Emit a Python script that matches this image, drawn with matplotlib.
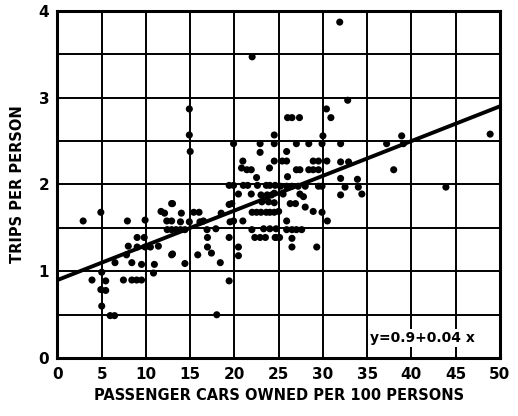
import numpy as np
import matplotlib.pyplot as plt

# cars owned per 100 persons vs. trips per person
cars = [
    2.9, 4.9, 7.9, 9.9, 11.7, 12.1, 12.9, 12.35, 12.9,
    12.4, 12.9, 13.4, 13.9, 14.4,
    9.0, 9.8, 8.0, 9.0, 9.9, 10.5, 11.4,
    12.9, 7.8, 6.5, 8.4, 9.5, 10.95, 10.85,
    5.0, 3.9, 5.45, 7.45, 8.4, 8.95, 9.5,
    4.9, 5.45, 5.0, 5.95, 6.45,
    13.0, 14.0, 15.4, 16.0, 18.5, 19.4, 19.4,
    13.9, 14.9, 16.1, 16.5, 19.5,
    16.9, 17.9, 16.95, 19.4, 16.95, 13.0, 15.85, 17.4,
    14.4, 18.4, 19.4, 18.0,
    14.9, 14.9, 15.0,
    22.0, 19.9, 22.9, 22.9, 24.5, 24.5, 20.95,
    20.8, 21.4, 21.9, 23.96, 22.5,
    19.9, 21.0, 21.5, 22.6, 23.6, 24.0, 24.6,
    20.45, 21.9, 23.0, 23.7, 24.2,
    19.7, 23.1, 23.85,
    22.0, 22.5, 23.0, 23.6, 24.0, 24.5,
    19.9, 20.95,
    21.97, 23.3, 24.0, 24.7,
    22.3, 22.9, 23.5, 24.7,
    20.45, 20.45,
    26.0, 26.5, 27.35, 30.4, 30.9, 32.8, 31.9,
    30.0, 24.5, 27.0, 28.4, 29.9, 32.0, 37.2,
    25.9, 25.4, 25.9, 28.9, 29.5, 30.45, 32.0, 32.9,
    27.0, 27.4, 28.4, 28.9, 29.5,
    26.0, 32.0, 33.9,
    25.2, 25.9, 26.5, 27.2, 28.0, 29.5, 29.9, 32.5, 34.0,
    24.5, 25.5, 27.4, 32.0, 34.4, 27.8,
    24.5, 26.3, 26.9, 28.0,
    28.9, 29.9, 25.0,
    25.9, 30.5,
    25.9, 26.5, 27.0, 27.6,
    24.6, 25.1, 26.5,
    26.5, 29.3,
    38.9, 39.1, 48.9, 38.0, 43.9,
]
trips = [
    1.58, 1.68, 1.58, 1.59, 1.69, 1.67, 1.78, 1.58, 1.58,
    1.48, 1.48, 1.48, 1.48, 1.48,
    1.39, 1.39, 1.29, 1.28, 1.28, 1.28, 1.29,
    1.19, 1.19, 1.10, 1.10, 1.08, 1.08, 0.98,
    0.99, 0.90, 0.89, 0.90, 0.90, 0.90, 0.90,
    0.79, 0.78, 0.60, 0.49, 0.49,
    1.78, 1.67, 1.68, 1.68, 1.67, 1.77, 1.99,
    1.57, 1.57, 1.57, 1.58, 1.57,
    1.48, 1.49, 1.39, 1.39, 1.28, 1.20, 1.19, 1.21,
    1.09, 1.10, 0.89, 0.50,
    2.87, 2.57, 2.38,
    3.47, 2.47, 2.47, 2.37, 2.57, 2.27, 2.27,
    2.19, 2.17, 2.17, 2.19, 2.08,
    1.99, 1.99, 1.99, 1.99, 1.99, 1.99, 1.99,
    1.89, 1.89, 1.88, 1.88, 1.88,
    1.78, 1.80, 1.80,
    1.68, 1.68, 1.68, 1.68, 1.68, 1.68,
    1.58, 1.58,
    1.48, 1.49, 1.49, 1.49,
    1.39, 1.39, 1.39, 1.39,
    1.28, 1.18,
    2.77, 2.77, 2.77, 2.87, 2.77, 2.97, 3.87,
    2.56, 2.47, 2.47, 2.47, 2.47, 2.47, 2.47,
    2.38, 2.27, 2.27, 2.27, 2.27, 2.27, 2.26, 2.26,
    2.17, 2.17, 2.17, 2.17, 2.17,
    2.09, 2.07, 2.06,
    1.98, 1.98, 1.98, 1.98, 1.98, 1.98, 1.98, 1.97, 1.97,
    1.90, 1.89, 1.89, 1.88, 1.89, 1.86,
    1.79, 1.78, 1.78, 1.74,
    1.69, 1.68, 1.69,
    1.58, 1.58,
    1.48, 1.48, 1.48, 1.48,
    1.39, 1.39, 1.38,
    1.28, 1.28,
    2.56, 2.47, 2.58, 2.17, 1.97,
]

# fitted line y = a + b x
a, b = 0.9, 0.04
x_ticks = [0, 5, 10, 15, 20, 25, 30, 35, 40, 45, 50]
y_ticks = [0, 1, 2, 3, 4]

fig = plt.figure(figsize=(5.18, 4.16), dpi=100)
ax = fig.add_axes([0.111, 0.139, 0.854, 0.835])

ax.set_xlim(0, 50)
ax.set_ylim(0, 4)

# grid every 5 cars and every half trip
for gx in np.arange(5, 50, 5):
    ax.axvline(gx, color="black", lw=1.4, zorder=1)
for gy in np.arange(0.5, 4, 0.5):
    ax.axhline(gy, color="black", lw=1.4, zorder=1)

ax.scatter(cars, trips, s=26, color="black", edgecolors="none", zorder=3)

xs = np.array([0, 50])
ax.plot(xs, a + b * xs, color="black", lw=2.8, zorder=4, solid_capstyle="butt")

ax.text(41.3, 0.23, "y=0.9+0.04 x", ha="center", va="center",
        fontsize=10, fontweight="bold", zorder=5,
        bbox=dict(facecolor="white", edgecolor="none", pad=1.5))

for s in ax.spines.values():
    s.set_linewidth(2.2)

ax.set_xticks(x_ticks)
ax.set_yticks(y_ticks)
ax.tick_params(length=0, pad=6, labelsize=11)
for lab in ax.get_xticklabels() + ax.get_yticklabels():
    lab.set_fontweight("bold")

ax.set_xlabel("PASSENGER CARS OWNED PER 100 PERSONS", fontsize=10.5,
              fontweight="bold", labelpad=5)
ax.set_ylabel("TRIPS PER PERSON", fontsize=10.5, fontweight="bold", labelpad=10)

fig.savefig("out.png", dpi=100)
